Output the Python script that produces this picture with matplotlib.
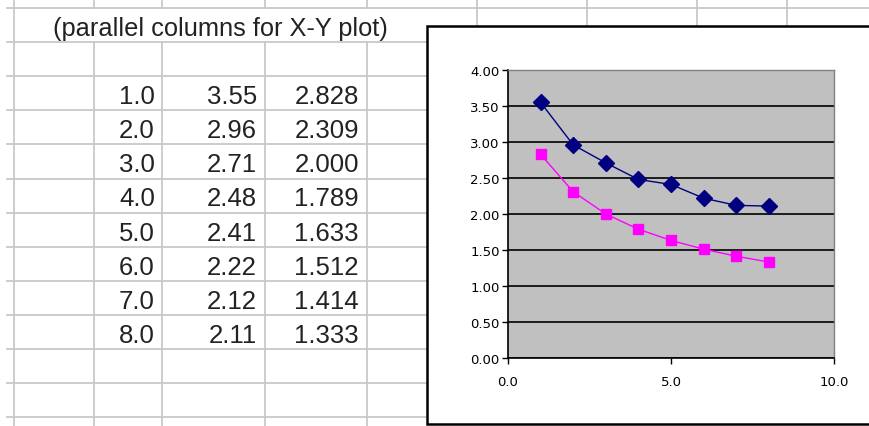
import numpy as np
import matplotlib.pyplot as plt
from matplotlib.patches import Rectangle
from matplotlib.ticker import FormatStrFormatter

# data from the sheet
x_vals = [1.0, 2.0, 3.0, 4.0, 5.0, 6.0, 7.0, 8.0]
series_a = [3.55, 2.96, 2.71, 2.48, 2.41, 2.22, 2.12, 2.11]
series_b = [2.828, 2.309, 2.000, 1.789, 1.633, 1.512, 1.414, 1.333]
header = '(parallel columns for X-Y plot)'

W, H = 870, 427
plt.rcParams['font.family'] = ['Liberation Sans', 'DejaVu Sans']

fig = plt.figure(figsize=(W / 100, H / 100), dpi=100)

# spreadsheet background, pixel coordinates
bg = fig.add_axes([0, 0, 1, 1])
bg.set_xlim(0, W)
bg.set_ylim(H, 0)
bg.axis('off')

grid_col = '#c8c8c8'
row_y = [9 + 34.1 * k for k in range(13)]
col_x = [14, 94, 162, 265, 367]
right_cols = [477, 587, 697, 787]

for y in row_y:
    bg.plot([7, W], [y, y], color=grid_col, lw=1.3)
# short ticks of the row above the header
for x in col_x + right_cols:
    bg.plot([x, x], [0, row_y[0]], color=grid_col, lw=1.3)
for x in right_cols:
    bg.plot([x, x], [row_y[0], 28], color=grid_col, lw=1.3)
# body columns (below header row)
for x in col_x:
    bg.plot([x, x], [row_y[1], H], color=grid_col, lw=1.3)
bg.plot([col_x[0], col_x[0]], [row_y[0], row_y[1]], color=grid_col, lw=1.3)

bg.text(220, 36, header, ha='center', va='baseline', fontsize=18.3, color='#222222')

col_right = [155, 257, 359]
for i in range(len(x_vals)):
    base = row_y[2 + i] + 27
    vals = ['%.1f' % x_vals[i], '%.2f' % series_a[i], '%.3f' % series_b[i]]
    for xr, s in zip(col_right, vals):
        bg.text(xr, base, s, ha='right', va='baseline', fontsize=18.5, color='#222222')

# chart frame
bg.add_patch(Rectangle((427, 27), W + 10 - 427, 398, facecolor='white',
                       edgecolor='black', lw=1.8, zorder=5))

# chart plot area
px0, px1, py0, py1 = 508, 834, 71, 359
ax = fig.add_axes([px0 / W, (H - py1) / H, (px1 - px0) / W, (py1 - py0) / H])
ax.set_zorder(10)
ax.set_facecolor('#c0c0c0')
ax.set_xlim(0, 10)
ax.set_ylim(0, 4)
ax.set_yticks(np.arange(0, 4.01, 0.5))
ax.set_xticks([0, 5, 10])
ax.yaxis.set_major_formatter(FormatStrFormatter('%.2f'))
ax.xaxis.set_major_formatter(FormatStrFormatter('%.1f'))
ax.grid(axis='y', color='black', lw=1.2)
ax.set_axisbelow(True)
ax.tick_params(direction='out', length=4, width=1, pad=2, colors='black')
for lab in ax.get_xticklabels() + ax.get_yticklabels():
    lab.set_fontfamily('DejaVu Sans')
    lab.set_fontsize(9.5)
ax.tick_params(axis='x', pad=8)
for s in ['left', 'bottom']:
    ax.spines[s].set_color('black')
    ax.spines[s].set_linewidth(1.2)
for s in ['top', 'right']:
    ax.spines[s].set_color('#808080')
    ax.spines[s].set_linewidth(1)

ax.plot(x_vals, series_a, color='#000080', lw=1, marker='D', markersize=8,
        markerfacecolor='#000080', markeredgecolor='#000080', clip_on=False)
ax.plot(x_vals, series_b, color='#ff00ff', lw=1, marker='s', markersize=7.5,
        markerfacecolor='#ff00ff', markeredgecolor='#ff00ff', clip_on=False)

fig.savefig('out.png', dpi=100)
